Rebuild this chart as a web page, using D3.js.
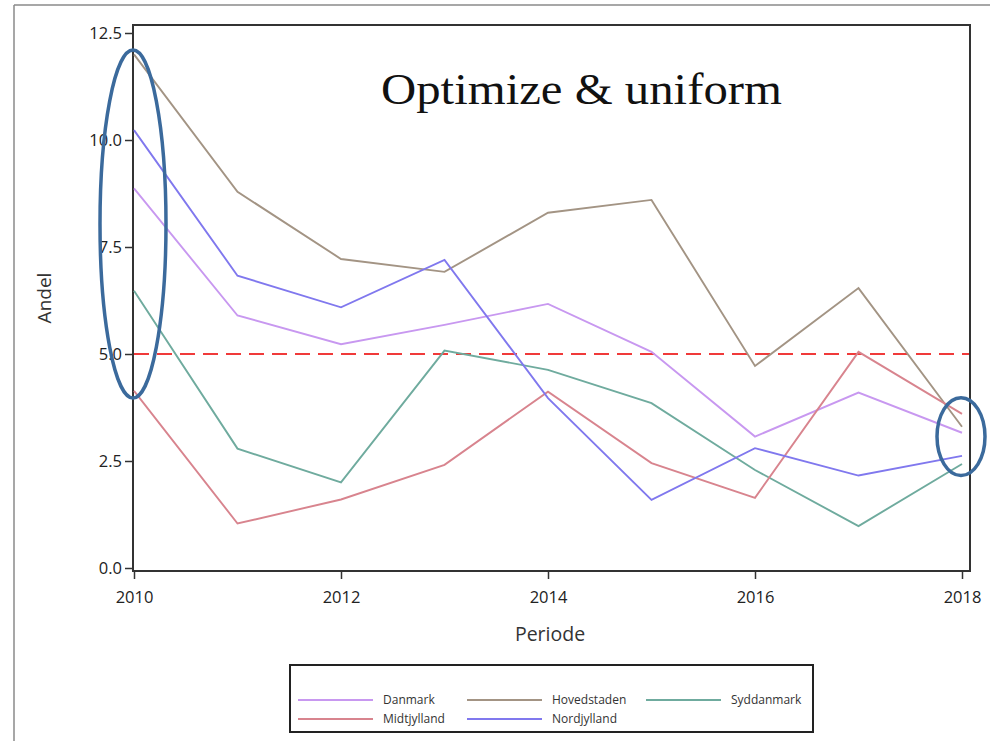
<!DOCTYPE html>
<html><head><meta charset="utf-8">
<script src="https://cdn.jsdelivr.net/npm/d3@7"></script>
<style>
html,body{margin:0;padding:0;background:#fff;}
svg{display:block;}
</style></head>
<body>
<svg id="chart" width="990" height="741"></svg>
<script>
const years = [2010, 2011, 2012, 2013, 2014, 2015, 2016, 2017, 2018];
const danmark     = [8.87, 5.90, 5.23, 5.68, 6.17, 5.05, 3.07, 4.10, 3.16];
const hovedstaden = [12.0, 8.79, 7.22, 6.92, 8.30, 8.60, 4.72, 6.54, 3.30];
const syddanmark  = [6.48, 2.79, 2.00, 5.08, 4.63, 3.85, 2.29, 0.98, 2.43];
const midtjylland = [4.14, 1.04, 1.60, 2.41, 4.12, 2.45, 1.64, 5.05, 3.60];
const nordjylland = [10.23, 6.83, 6.09, 7.20, 3.97, 1.59, 2.80, 2.16, 2.62];
const seriesNames = ["Danmark", "Hovedstaden", "Syddanmark", "Midtjylland", "Nordjylland"];
const seriesColors = ["#c898f0", "#a39484", "#6fab9e", "#d8848e", "#8078ee"];
const yTicks = [0, 2.5, 5, 7.5, 10, 12.5];
const xTicks = [2010, 2012, 2014, 2016, 2018];
const threshold = 5.0;
const title = "Optimize & uniform";
const xLabel = "Periode";
const yLabel = "Andel";

const seriesData = [danmark, hovedstaden, syddanmark, midtjylland, nordjylland];
const svg = d3.select("#chart");

// outer frame (top and left edges)
svg.append("line").attr("x1",14).attr("y1",5).attr("x2",990).attr("y2",5).attr("stroke","#8a8a8a").attr("stroke-width",1.5);
svg.append("line").attr("x1",14).attr("y1",5).attr("x2",14).attr("y2",741).attr("stroke","#8a8a8a").attr("stroke-width",1.5);

const plot = {left:133, right:970, top:25, bottom:571};
const x = d3.scaleLinear().domain([2010, 2018]).range([134, 962]);
const y = d3.scaleLinear().domain([0, 12.5]).range([568, 33]);

// plot frame
svg.append("rect").attr("x",plot.left).attr("y",plot.top)
  .attr("width",plot.right-plot.left).attr("height",plot.bottom-plot.top)
  .attr("fill","none").attr("stroke","#333").attr("stroke-width",2);

const tickFont = "'Open Sans', 'Noto Sans', sans-serif";

// y axis
const yAxis = d3.axisLeft(y).tickValues(yTicks).tickFormat(d3.format(".1f")).tickSize(8).tickSizeOuter(0).tickPadding(3);
const gy = svg.append("g").attr("transform",`translate(${plot.left},0)`).call(yAxis);
gy.select(".domain").remove();
gy.selectAll(".tick line").attr("stroke","#333").attr("stroke-width",1.5);
gy.selectAll(".tick text").attr("font-family",tickFont).attr("font-size",16.5).attr("fill","#222");

// x axis
const xAxis = d3.axisBottom(x).tickValues(xTicks).tickFormat(d3.format("d")).tickSize(8).tickSizeOuter(0).tickPadding(12);
const gx = svg.append("g").attr("transform",`translate(0,${plot.bottom})`).call(xAxis);
gx.select(".domain").remove();
gx.selectAll(".tick line").attr("stroke","#333").attr("stroke-width",1.5);
gx.selectAll(".tick text").attr("font-family",tickFont).attr("font-size",16.5).attr("fill","#222");

// axis labels
svg.append("text").attr("x",550).attr("y",641).attr("text-anchor","middle")
  .attr("font-family",tickFont).attr("font-size",19.5).attr("fill","#333").text(xLabel);
svg.append("text").attr("transform","translate(51,298) rotate(-90)").attr("text-anchor","middle")
  .attr("font-family",tickFont).attr("font-size",19).attr("fill","#333").text(yLabel);

// threshold line
svg.append("line").attr("x1",plot.left+1).attr("x2",plot.right-1)
  .attr("y1",y(threshold)).attr("y2",y(threshold))
  .attr("stroke","#f03a3a").attr("stroke-width",2).attr("stroke-dasharray","15,8");

// series lines
const line = d3.line().x((d,i)=>x(years[i])).y(d=>y(d));
seriesData.forEach((vals,i)=>{
  svg.append("path").datum(vals).attr("d",line).attr("fill","none")
    .attr("stroke",seriesColors[i]).attr("stroke-width",1.9).attr("stroke-linejoin","miter");
});

// annotation ellipses
const ell = (x0, vTop, vBot, rx) => {
  svg.append("ellipse").attr("cx",x(x0)-1).attr("cy",(y(vTop)+y(vBot))/2)
    .attr("rx",rx).attr("ry",(y(vBot)-y(vTop))/2)
    .attr("fill","none").attr("stroke","#3b6a9c").attr("stroke-width",3.5);
};
ell(2010, 12.1, 3.97, 33);
ell(2018, 3.98, 2.16, 24);

// title
svg.append("text").attr("x",381).attr("y",104).attr("textLength",401).attr("lengthAdjust","spacingAndGlyphs")
  .attr("font-family","'Liberation Serif', 'DejaVu Serif', serif").attr("font-size",44).attr("fill","#111").text(title);

// legend
svg.append("rect").attr("x",290).attr("y",665).attr("width",523).attr("height",67)
  .attr("fill","#fff").attr("stroke","#222").attr("stroke-width",2);
const legendPos = [
  {lx:298, ty:700}, {lx:467, ty:700}, {lx:646, ty:700},
  {lx:298, ty:719}, {lx:467, ty:719}
];
seriesNames.forEach((name,i)=>{
  const p = legendPos[i];
  svg.append("line").attr("x1",p.lx).attr("x2",p.lx+75).attr("y1",p.ty).attr("y2",p.ty)
    .attr("stroke",seriesColors[i]).attr("stroke-width",1.8);
  svg.append("text").attr("x",p.lx+85).attr("y",p.ty+4).attr("font-family",tickFont)
    .attr("font-size",12).attr("fill","#333").text(name);
});
</script>
</body></html>
